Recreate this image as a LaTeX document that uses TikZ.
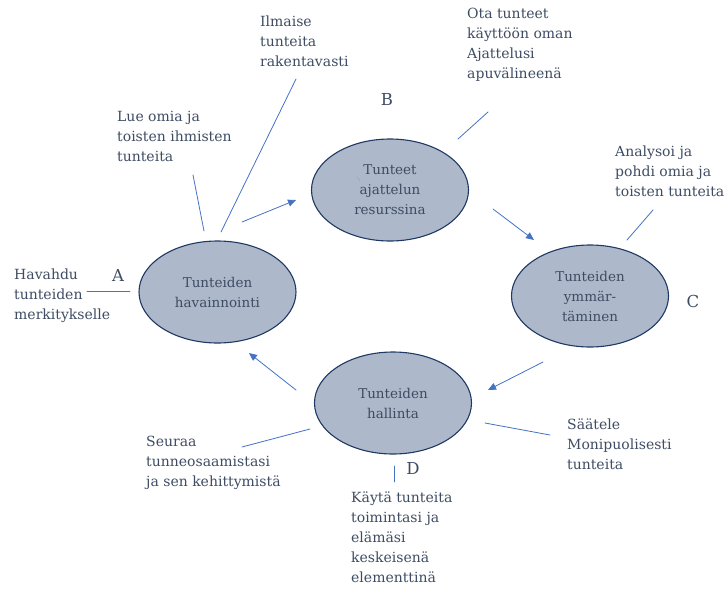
\documentclass[tikz,border=0pt]{standalone}
\usepackage{fontspec}
\setmainfont{DejaVu Serif}
\usetikzlibrary{shapes.geometric,arrows.meta}
\definecolor{ovalfill}{HTML}{ADB9CA}
\definecolor{ovaledge}{HTML}{1F3864}
\definecolor{txtgray}{HTML}{3E4C63}
\definecolor{linkblue}{HTML}{4472C4}
\tikzset{
  oval/.style={ellipse,draw=ovaledge,line width=1.1pt,fill=ovalfill,inner sep=0pt,
    minimum width=157pt,minimum height=102pt,align=center,text=txtgray,
    font=\fontsize{13.5}{20}\selectfont},
  note/.style={anchor=north west,inner sep=0pt,align=left,text=txtgray,
    font=\fontsize{14}{20}\selectfont},
  letter/.style={inner sep=0pt,text=txtgray,font=\fontsize{16.5}{18}\selectfont},
  link/.style={draw=linkblue,line width=0.8pt},
  flow/.style={link,-{Triangle[length=8pt,width=7pt]}}
}
\begin{document}
\begin{tikzpicture}[x=1pt,y=-1pt,line cap=round,line join=round]
  \useasboundingbox (0,0) rectangle (725,589);
  % the four stages
  \node[oval] (havainnointi) at (217.5,292) {Tunteiden\\havainnointi};
  \node[oval] (resurssina) at (390,190) {Tunteet\\ajattelun\\resurssina};
  \node[oval] (ymmartaminen) at (590,296) {Tunteiden\\ymmär-\\täminen};
  \node[oval] (hallinta) at (393,403) {Tunteiden\\hallinta};
  % stage letters
  \node[letter] (kirjainA) at (118,275) {A};
  \node[letter] (kirjainB) at (387,99) {B};
  \node[letter] (kirjainC) at (693,301) {C};
  \node[letter] (kirjainD) at (413,468) {D};
  % notes
  \node[note] (ilmaise) at (260,16) {Ilmaise\\tunteita\\rakentavasti};
  \node[note] (lue) at (117,111) {Lue omia ja\\toisten ihmisten\\tunteita};
  \node[note] (havahdu) at (14,269) {Havahdu\\tunteiden\\merkitykselle};
  \node[note] (ota) at (467,8) {Ota tunteet\\käyttöön oman\\Ajattelusi\\apuvälineenä};
  \node[note] (analysoi) at (615,146) {Analysoi ja\\pohdi omia ja\\toisten tunteita};
  \node[note] (seuraa) at (146,436) {Seuraa\\tunneosaamistasi\\ja sen kehittymistä};
  \node[note] (saatele) at (567,419) {Säätele\\Monipuolisesti\\tunteita};
  \node[note] (kayta) at (351,492) {Käytä tunteita\\toimintasi ja\\elämäsi\\keskeisenä\\elementtinä};
  % ends of the connectors
  \coordinate (ab1) at (242,222);  \coordinate (ab2) at (296,200);
  \coordinate (bc1) at (493,209);  \coordinate (bc2) at (534,240);
  \coordinate (cd1) at (543,362);  \coordinate (cd2) at (488,390);
  \coordinate (da1) at (296,390);  \coordinate (da2) at (249,353);
  \coordinate (lue1) at (193,175);  \coordinate (lue2) at (204,231);
  \coordinate (ilm1) at (296,79);   \coordinate (ilm2) at (221,232);
  \coordinate (hav1) at (87,291);   \coordinate (hav2) at (130,291);
  \coordinate (ota1) at (488,112);  \coordinate (ota2) at (458,139);
  \coordinate (ana1) at (653,210);  \coordinate (ana2) at (627,240);
  \coordinate (seu1) at (242,447);  \coordinate (seu2) at (310,429);
  \coordinate (saa1) at (485,423);  \coordinate (saa2) at (550,435);
  \coordinate (kay1) at (394,466);  \coordinate (kay2) at (394,482);
  \coordinate (mark1) at (357,177); \coordinate (mark2) at (360,181);
  % cycle
  \draw[flow] (ab1) -- (ab2);
  \draw[flow] (bc1) -- (bc2);
  \draw[flow] (cd1) -- (cd2);
  \draw[flow] (da1) -- (da2);
  % note lines
  \draw[link] (lue1) -- (lue2);
  \draw[link] (ilm1) -- (ilm2);
  \draw[link] (hav1) -- (hav2);
  \draw[link] (ota1) -- (ota2);
  \draw[link] (ana1) -- (ana2);
  \draw[link] (seu1) -- (seu2);
  \draw[link] (saa1) -- (saa2);
  \draw[link] (kay1) -- (kay2);
  \draw[draw=linkblue!60,line width=0.8pt] (mark1) -- (mark2);
\end{tikzpicture}
\end{document}
